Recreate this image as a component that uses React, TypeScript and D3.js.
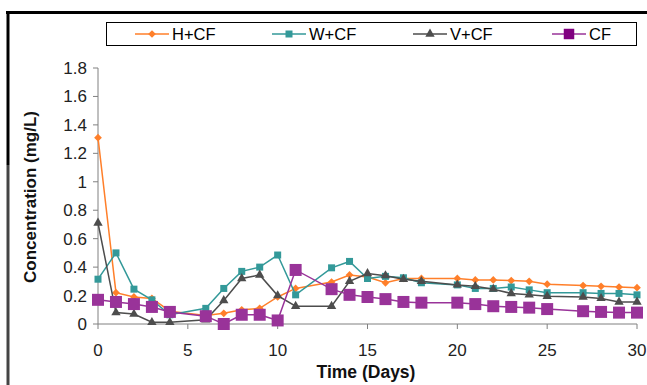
import React from "react";
import * as d3 from "d3";

const days = [0, 1, 2, 3, 4, 6, 7, 8, 9, 10, 11, 13, 14, 15, 16, 17, 18, 20, 21, 22, 23, 24, 25, 27, 28, 29, 30];
const hcf = [1.31, 0.22, 0.19, 0.18, 0.09, 0.06, 0.075, 0.1, 0.11, 0.19, 0.25, 0.295, 0.345, 0.33, 0.29, 0.32, 0.32, 0.32, 0.31, 0.31, 0.305, 0.3, 0.28, 0.27, 0.265, 0.26, 0.255];
const wcf = [0.315, 0.5, 0.245, 0.17, 0.065, 0.11, 0.25, 0.37, 0.4, 0.485, 0.205, 0.395, 0.44, 0.32, 0.335, 0.325, 0.29, 0.275, 0.25, 0.25, 0.26, 0.24, 0.22, 0.22, 0.215, 0.215, 0.205];
const vcf = [0.71, 0.08, 0.07, 0.012, 0.012, 0.03, 0.165, 0.32, 0.345, 0.2, 0.125, 0.125, 0.3, 0.355, 0.34, 0.315, 0.3, 0.275, 0.265, 0.245, 0.215, 0.205, 0.195, 0.19, 0.18, 0.155, 0.155];
const cf = [0.17, 0.155, 0.14, 0.12, 0.085, 0.055, 0.0, 0.065, 0.065, 0.025, 0.38, 0.245, 0.205, 0.19, 0.175, 0.155, 0.15, 0.15, 0.14, 0.125, 0.12, 0.115, 0.105, 0.09, 0.085, 0.08, 0.08];

const xTicks = [0, 5, 10, 15, 20, 25, 30];
const yTicks = [0, 0.2, 0.4, 0.6, 0.8, 1, 1.2, 1.4, 1.6, 1.8];

const series = [
  { name: "H+CF", values: hcf, color: "#FF7F2A", symbol: d3.symbolSquare, size: 30, rotate: 45, legendX: 135 },
  { name: "W+CF", values: wcf, color: "#339999", symbol: d3.symbolSquare, size: 49, rotate: 0, legendX: 272 },
  { name: "V+CF", values: vcf, color: "#4D4D4D", symbol: d3.symbolTriangle, size: 38, rotate: 0, legendX: 413 },
  { name: "CF", values: cf, color: "#993399", symbol: d3.symbolSquare, size: 144, rotate: 0, legendX: 552 },
];

const W = 647;
const H = 385;
const font = "'Liberation Sans', Arial, sans-serif";

export default function App() {
  const x = d3.scaleLinear().domain([0, 30]).range([98, 637]);
  const y = d3.scaleLinear().domain([0, 1.8]).range([324, 68]);

  const line = d3
    .line<number>()
    .x((_, i) => x(days[i]))
    .y((d) => y(d));

  return (
    <div style={{ position: "absolute", left: 0, top: 0 }}>
      <svg width={W} height={H} style={{ display: "block", background: "#fff" }}>
        {/* outer frame */}
        <line x1={6} x2={W} y1={12.5} y2={12.5} stroke="#000" strokeWidth={3} />
        <line x1={8} x2={8} y1={11} y2={165} stroke="#000" strokeWidth={3} />
        <line x1={8} x2={8} y1={165} y2={H} stroke="#444" strokeWidth={3} />

        {/* legend */}
        <rect x={106.5} y={22.5} width={530} height={23} fill="#fff" stroke="#000" strokeWidth={1} />
        {series.map((s) => (
          <g key={s.name}>
            <line x1={s.legendX} x2={s.legendX + 34} y1={34} y2={34} stroke={s.color} strokeWidth={1.5} />
            <path
              d={d3.symbol().type(s.symbol).size(s.name === "CF" ? 110 : s.size)()!}
              transform={`translate(${s.legendX + 17},34) rotate(${s.rotate})`}
              fill={s.name === "CF" ? "#800080" : s.color}
            />
            <text x={s.legendX + 37} y={40} fontFamily={font} fontSize={16.5} fill="#000">
              {s.name}
            </text>
          </g>
        ))}

        {/* y axis */}
        <line x1={98} x2={98} y1={y(1.8)} y2={y(0)} stroke="#808080" strokeWidth={1} />
        {yTicks.map((t) => (
          <g key={t}>
            <line x1={93} x2={98} y1={y(t)} y2={y(t)} stroke="#808080" />
            <text x={87} y={y(t) + 6} textAnchor="end" fontFamily={font} fontSize={17} fill="#222">
              {t}
            </text>
          </g>
        ))}

        {/* x axis */}
        <line x1={98} x2={637} y1={y(0)} y2={y(0)} stroke="#808080" strokeWidth={1} />
        {xTicks.map((t) => (
          <g key={t}>
            <line x1={x(t)} x2={x(t)} y1={y(0)} y2={y(0) + 5} stroke="#808080" />
            <text x={x(t)} y={356} textAnchor="middle" fontFamily={font} fontSize={17} fill="#222">
              {t}
            </text>
          </g>
        ))}

        {/* axis titles */}
        <text
          transform="translate(36,197) rotate(-90)"
          textAnchor="middle"
          fontFamily={font}
          fontSize={17}
          fontWeight="bold"
          fill="#111"
        >
          Concentration (mg/L)
        </text>
        <text x={366} y={378} textAnchor="middle" fontFamily={font} fontSize={17.5} fontWeight="bold" fill="#111">
          Time (Days)
        </text>

        {/* series */}
        {series.map((s) => (
          <g key={s.name}>
            <path d={line(s.values)!} fill="none" stroke={s.color} strokeWidth={1.5} />
            {s.values.map((v, i) => (
              <path
                key={i}
                d={d3.symbol().type(s.symbol).size(s.size)()!}
                transform={`translate(${x(days[i])},${y(v)}) rotate(${s.rotate})`}
                fill={s.color}
              />
            ))}
          </g>
        ))}
      </svg>
    </div>
  );
}
